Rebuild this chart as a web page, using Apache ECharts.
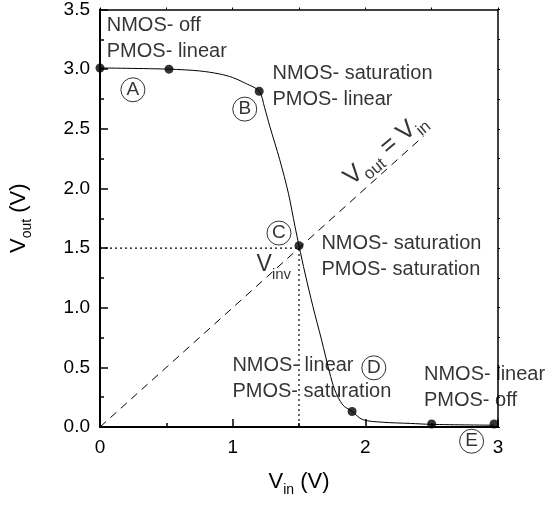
<!DOCTYPE html>
<html>
<head>
<meta charset="utf-8">
<script src="https://cdn.jsdelivr.net/npm/echarts@6/dist/echarts.min.js"></script>
<style>
  html, body { margin: 0; padding: 0; background: #fff; }
  #chart { width: 548px; height: 508px; }
</style>
</head>
<body>
<div id="chart"></div>
<script>
// CMOS inverter voltage transfer characteristic (Vout vs Vin)
const curveVin  = [0, 0.52, 0.75, 0.9, 1.0, 1.08, 1.2, 1.24, 1.28, 1.355, 1.42, 1.47, 1.5, 1.545, 1.605, 1.67, 1.73, 1.77, 1.83, 1.9, 1.98, 2.13, 2.34, 2.5, 2.97];
const curveVout = [3.01, 3.0, 2.985, 2.96, 2.93, 2.89, 2.815, 2.68, 2.52, 2.24, 1.96, 1.68, 1.52, 1.29, 1.01, 0.73, 0.46, 0.31, 0.185, 0.13, 0.062, 0.04, 0.03, 0.022, 0.015];

// operating points marked with dots
const pointVin  = [0, 0.52, 1.2, 1.5, 1.9, 2.5, 2.97];
const pointVout = [3.01, 3.0, 2.815, 1.52, 0.13, 0.025, 0.025];

// region letters (A..E)
const regionLetters = ['A', 'B', 'C', 'D', 'E'];
const regionVin  = [0.248, 1.091, 1.349, 2.064, 2.801];
const regionVout = [2.827, 2.665, 1.626, 0.496, -0.119];

// transistor states for each region
const stateText = [
  'NMOS- off\nPMOS- linear',
  'NMOS- saturation\nPMOS- linear',
  'NMOS- saturation\nPMOS- saturation',
  'NMOS- linear\nPMOS- saturation',
  'NMOS- linear\nPMOS- off'
];
const stateVin  = [0.051, 1.30, 1.669, 0.998, 2.442];
const stateVout = [3.256, 2.854, 1.426, 0.406, 0.328];

// switching threshold and unity line
const vInv = 1.5;
const unityLine = [0, 2.44];

const FONT = 'Liberation Sans, Arial, Helvetica, sans-serif';
const BLACK = '#000';

const chart = echarts.init(document.getElementById('chart'), null, { renderer: 'canvas' });

const baseAxis = {
  axisLine: { show: true, onZero: false, lineStyle: { color: BLACK, width: 2 } },
  splitLine: { show: false },
  minorSplitLine: { show: false }
};

const option = {
  animation: false,
  backgroundColor: '#fff',
  grid: { left: 100, right: 50, top: 9, bottom: 81 },
  xAxis: [
    Object.assign({}, baseAxis, {
      type: 'value', min: 0, max: 3, interval: 1, position: 'bottom',
      axisTick: { inside: true, length: 8, lineStyle: { color: BLACK, width: 1.5 } },
      minorTick: { show: true, splitNumber: 2, length: 4, lineStyle: { color: BLACK, width: 1.5 } },
      axisLabel: { color: BLACK, fontFamily: FONT, fontSize: 19, margin: 11 },
      name: '{v|V}{s|in}{v| (V)}',
      nameLocation: 'middle', nameGap: 40,
      nameTextStyle: {
        rich: {
          v: { fontFamily: FONT, fontSize: 22, color: BLACK },
          s: { fontFamily: FONT, fontSize: 14, color: BLACK, padding: [16, 0, 0, 0] }
        }
      }
    }),
    Object.assign({}, baseAxis, {
      type: 'value', min: 0, max: 3, interval: 1, position: 'top',
      axisLine: { show: true, onZero: false, lineStyle: { color: BLACK, width: 1.5 } },
      axisTick: { inside: false, length: 2, lineStyle: { color: BLACK, width: 1 } },
      minorTick: { show: true, splitNumber: 2, length: 2, lineStyle: { color: BLACK, width: 1 } },
      axisLabel: { show: false }
    })
  ],
  yAxis: [
    Object.assign({}, baseAxis, {
      type: 'value', min: 0, max: 3.5, interval: 0.5, position: 'left',
      axisTick: { inside: true, length: 8, lineStyle: { color: BLACK, width: 1.5 } },
      minorTick: { show: true, splitNumber: 2, length: 4, lineStyle: { color: BLACK, width: 1.5 } },
      axisLabel: { color: BLACK, fontFamily: FONT, fontSize: 19, margin: 10,
        formatter: v => v.toFixed(1) },
      name: '{v|V}{s|out}{v| (V)}',
      nameLocation: 'middle', nameGap: 66,
      nameTextStyle: {
        rich: {
          v: { fontFamily: FONT, fontSize: 22, color: BLACK },
          s: { fontFamily: FONT, fontSize: 14, color: BLACK, padding: [16, 0, 0, 0] }
        }
      }
    }),
    Object.assign({}, baseAxis, {
      type: 'value', min: 0, max: 3.5, interval: 0.5, position: 'right',
      axisLine: { show: true, onZero: false, lineStyle: { color: BLACK, width: 1.5 } },
      axisTick: { inside: false, length: 2, lineStyle: { color: BLACK, width: 1 } },
      minorTick: { show: true, splitNumber: 2, length: 2, lineStyle: { color: BLACK, width: 1 } },
      axisLabel: { show: false }
    })
  ],
  series: [
    {
      name: 'Vout = Vin',
      type: 'line',
      data: unityLine.map(v => [v, v]),
      showSymbol: false,
      lineStyle: { color: BLACK, width: 1, type: [8, 6] },
      silent: true
    },
    {
      name: 'Vinv guides',
      type: 'line',
      data: [[0, vInv], [vInv, vInv], [vInv, 0]],
      showSymbol: false,
      lineStyle: { color: BLACK, width: 1.2, type: [2, 3] },
      silent: true
    },
    {
      name: 'transfer curve',
      type: 'line',
      data: curveVin.map((x, i) => [x, curveVout[i]]),
      smooth: 0.3,
      showSymbol: false,
      lineStyle: { color: BLACK, width: 1 },
      silent: true,
      clip: false
    },
    {
      name: 'operating points',
      type: 'scatter',
      data: pointVin.map((x, i) => [x, pointVout[i]]),
      symbol: 'circle',
      symbolSize: 9,
      itemStyle: { color: BLACK },
      silent: true,
      clip: false
    },
    {
      name: 'regions',
      type: 'scatter',
      data: regionVin.map((x, i) => ({ value: [x, regionVout[i]], name: regionLetters[i] })),
      symbol: 'circle',
      symbolSize: 24,
      itemStyle: { color: 'rgba(0,0,0,0)', borderColor: BLACK, borderWidth: 1 },
      label: { show: true, position: 'inside', formatter: '{b}', color: BLACK,
        fontFamily: FONT, fontSize: 19 },
      silent: true,
      clip: false
    },
    {
      name: 'states',
      type: 'scatter',
      data: stateVin.map((x, i) => ({ value: [x, stateVout[i]], name: stateText[i] })),
      symbolSize: 0,
      label: { show: true, position: 'right', distance: 0, formatter: '{b}', color: BLACK,
        fontFamily: FONT, fontSize: 20, lineHeight: 26, align: 'left' },
      silent: true,
      clip: false
    },
    {
      name: 'Vinv label',
      type: 'scatter',
      data: [{ value: [1.31, 1.36], name: 'Vinv' }],
      symbolSize: 0,
      label: { show: true, position: 'inside', formatter: '{v|V}{s|inv}',
        rich: {
          v: { fontFamily: FONT, fontSize: 23, color: BLACK },
          s: { fontFamily: FONT, fontSize: 15, color: BLACK, padding: [20, 0, 0, 0] }
        } },
      silent: true
    },
    {
      name: 'unity label',
      type: 'scatter',
      data: [{ value: [2.15, 2.33], name: 'Vout = Vin' }],
      symbolSize: 0,
      label: { show: true, position: 'inside', rotate: 40, formatter: '{v|V}{s|out}{v| = V}{s|in}',
        rich: {
          v: { fontFamily: FONT, fontSize: 25, color: BLACK },
          s: { fontFamily: FONT, fontSize: 17, color: BLACK, padding: [18, 0, 0, 0] }
        } },
      silent: true
    }
  ]
};

chart.setOption(option);
</script>
</body>
</html>
